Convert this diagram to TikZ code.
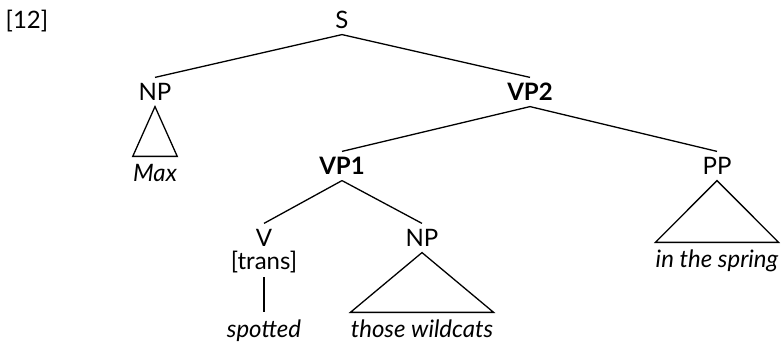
\documentclass[tikz,border=0pt]{standalone}
\usepackage{fontspec}
\setmainfont{Lato}
\usepackage{tikz}
\usetikzlibrary{positioning}

\newcommand{\treefont}{\fontsize{12}{14}\selectfont}
\tikzset{
  cat/.style={inner sep=2.8pt,text height=8.6pt,text depth=0pt},
  word/.style={inner xsep=0pt,inner ysep=4pt,text height=8.6pt,text depth=3pt,anchor=base,font=\treefont\itshape},
  branch/.style={line width=0.65pt}
}

\begin{document}
\begin{tikzpicture}[x=0.5pt,y=-0.5pt,font=\treefont]
  \useasboundingbox (0,0) rectangle (782,346);
  \node[cat] (num) at (27,20) {[12]};
  % categories
  \node[cat] (s)   at (342,20)  {S};
  \node[cat] (np)  at (155,92)  {NP};
  \node[cat] (vp2) at (530,92)  {\bfseries VP2};
  \node[cat] (vp1) at (342,166) {\bfseries VP1};
  \node[cat] (pp)  at (717,166) {PP};
  \node[cat] (v)   at (264,238) {V};
  \node[cat] (obj) at (422,238) {NP};
  \node[word,font=\treefont,inner ysep=0.5pt] (trans) at (264,270) {[trans]};
  % words
  \node[word] (max)    at (155,182) {Max};
  \node[word] (spot)   at (264,338) {spotted};
  \node[word] (cats)   at (422,338) {those wildcats};
  \node[word] (spring) at (717,268) {in the spring};
  % branches
  \draw[branch] (s.south) -- (np.north);
  \draw[branch] (s.south) -- (vp2.north);
  \draw[branch] (vp2.south) -- (vp1.north);
  \draw[branch] (vp2.south) -- (pp.north);
  \draw[branch] (vp1.south) -- (v.north);
  \draw[branch] (vp1.south) -- (obj.north);
  \draw[branch] (trans.south) -- (spot.north);
  % triangles
  \draw[branch] (np.south) -- (max.north east) -- (max.north west) -- cycle;
  \draw[branch] (obj.south) -- (cats.north east) -- (cats.north west) -- cycle;
  \draw[branch] (pp.south) -- (spring.north east) -- (spring.north west) -- cycle;
\end{tikzpicture}
\end{document}
